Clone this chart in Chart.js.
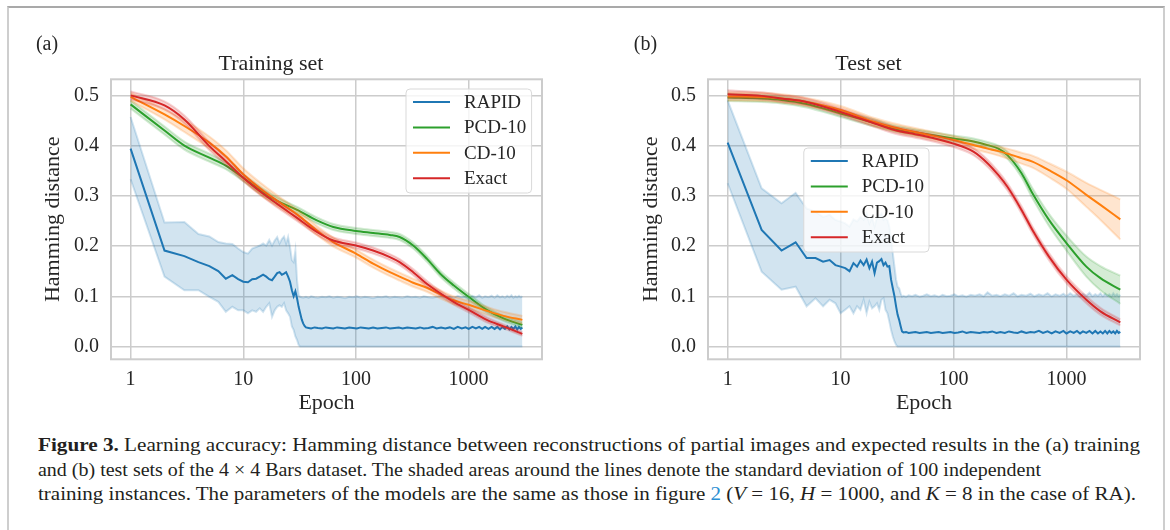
<!DOCTYPE html>
<html>
<head>
<meta charset="utf-8">
<script src="https://cdn.jsdelivr.net/npm/chart.js@4.4.1/dist/chart.umd.min.js"></script>
<style>
  html, body { margin: 0; padding: 0; background: #fff; }
  body { width: 1170px; height: 530px; position: relative; overflow: hidden; }
  #frame { position: absolute; left: 7px; top: 6px; width: 1154px; height: 540px;
           border-top: 2px solid #a9a9a9; border-left: 2px solid #cecece; border-right: 2px solid #cecece; }
  #left { position: absolute; left: 0; top: 0; }
  #right { position: absolute; left: 597px; top: 0; }
  #caption { position: absolute; left: 38px; top: 433px; font-family: "Liberation Serif", "Times New Roman", serif;
             font-size: 18.4px; line-height: 24.7px; color: #231f20; }
  #caption div { white-space: nowrap; }
  #caption .line { display: inline-block; transform-origin: 0 50%; }
</style>
</head>
<body>
<div id="frame"></div>
<canvas id="left" width="585" height="420"></canvas>
<canvas id="right" width="573" height="420"></canvas>
<div id="caption">
  <div><span class="line" data-w="1102"><b>Figure 3.</b> Learning accuracy: Hamming distance between reconstructions of partial images and expected results in the (a) training</span></div>
  <div><span class="line" data-w="1003">and (b) test sets of the 4 × 4 Bars dataset. The shaded areas around the lines denote the standard deviation of 100 independent</span></div>
  <div><span class="line" data-w="1098">training instances. The parameters of the models are the same as those in figure <span style="color:#2b8fd3">2</span> (<i>V</i> = 16, <i>H</i> = 1000, and <i>K</i> = 8 in the case of RA).</span></div>
</div>
<script>
// ---- data ----
const seriesLabels = ["RAPID", "PCD-10", "CD-10", "Exact"];
const xTicks = [1, 10, 100, 1000];
const yTicks = [0, 0.1, 0.2, 0.3, 0.4, 0.5];

// RAPID epochs (shared by both panels)
const rapidEpochs = [1,2,3,4,5,6,7,8,9,10,11,12,13,14,15,16,17,18,19,20,21,22,23,24,25,26,27,28,29,30,31,32,33,34,35,
  36,38,40,43,46, 50,54,58,63,68, 74,80,87,94,102, 110,120,130,142,155, 170,185,200,220,240,
  260,285,310,340,370, 400,440,480,520,570, 620,680,740,800,870, 940,1000,1080,1160,1240,
  1320,1400,1500,1600,1700, 1800,1900,2000,2100,2200, 2300,2400,2500,2600,2700, 2800,2900,3000];

// Training set, RAPID
const trainRapid = [.394,.191,.180,.168,.160,.150,.135,.142,.134,.129,.128,.134,.135,.139,.143,.139,.134,.132,.139,.146,
  .148,.143,.145,.148,.139,.129,.112,.100,.110,.096,.079,.066,.054,.046,.041,
  .038,.037,.036,.038,.037, .036,.038,.037,.036,.038, .037,.036,.038,.037,.036, .038,.037,.036,.038,.036,
  .037,.038,.036,.037,.038, .036,.038,.037,.036,.038, .036,.037,.039,.036,.038, .036,.038,.035,.039,.036,
  .038,.035,.039,.036,.039, .035,.039,.035,.039,.035, .039,.034,.039,.035,.040, .034,.039,.035,.040,.034,
  .039,.035,.038];
const trainRapidHi = [.457,.247,.248,.224,.219,.208,.205,.204,.195,.188,.185,.195,.198,.201,.205,.201,.212,.201,.211,.218,
  .205,.214,.219,.205,.218,.198,.172,.168,.191,.132,.102,.099,.098,.097,.098,
  .099,.097,.100,.098,.097, .099,.098,.100,.097,.099, .098,.096,.099,.098,.100, .097,.099,.098,.096,.099,
  .098,.100,.097,.099,.098, .097,.100,.098,.099,.097, .100,.098,.097,.099,.101, .098,.100,.097,.101,.098,
  .100,.097,.101,.098,.102, .097,.100,.098,.101,.097, .102,.098,.100,.097,.101, .098,.102,.097,.100,.098,
  .101,.098,.100];
const trainRapidLo = [.333,.139,.112,.112,.099,.089,.069,.079,.072,.072,.066,.072,.069,.076,.069,.079,.086,.059,.072,.079,
  .082,.079,.086,.072,.066,.059,.040,.033,.020,.013,.003,0,0,0,0,
  0,0,0,0,0, 0,0,0,0,0, 0,0,0,0,0, 0,0,0,0,0, 0,0,0,0,0, 0,0,0,0,0, 0,0,0,0,0, 0,0,0,0,0,
  0,0,0,0,0, 0,0,0,0,0, 0,0,0,0,0, 0,0,0,0,0, 0,0,0];

// Test set, RAPID
const testRapid = [.406,.232,.191,.2075,.176,.176,.169,.172,.162,.159,.156,.150,.166,.159,.171,.162,.173,.156,.169,.146,
  .167,.170,.174,.162,.167,.159,.160,.133,.116,.100,.080,.063,.053,.041,.030,
  .028,.029,.027,.028,.029, .027,.028,.029,.027,.028, .029,.027,.028,.029,.027, .028,.030,.027,.029,.028,
  .027,.029,.028,.030,.027, .029,.027,.030,.028,.027, .030,.027,.029,.028,.031, .027,.030,.026,.030,.027,
  .031,.026,.030,.027,.031, .026,.030,.027,.031,.026, .031,.026,.030,.026,.031, .026,.031,.027,.030,.026,
  .031,.027,.029];
const testRapidHi = [.490,.315,.285,.306,.275,.268,.258,.262,.252,.249,.245,.239,.253,.249,.258,.252,.265,.245,.258,.239,
  .257,.260,.265,.252,.255,.252,.239,.212,.186,.159,.133,.119,.116,.106,.099,
  .101,.099,.102,.100,.103, .099,.101,.104,.100,.102, .099,.103,.100,.101,.104, .100,.102,.099,.103,.101,
  .104,.100,.108,.101,.103, .100,.104,.101,.106,.100, .103,.101,.105,.100,.104, .101,.106,.100,.104,.101,
  .105,.100,.106,.101,.104, .100,.105,.101,.107,.100, .104,.101,.106,.100,.105, .101,.104,.100,.106,.101,
  .104,.100,.103];
const testRapidLo = [.325,.149,.113,.119,.080,.096,.080,.093,.086,.066,.073,.080,.066,.080,.073,.093,.066,.089,.076,.080,
  .086,.073,.093,.096,.073,.066,.050,.033,.020,.010,.003,0,0,0,0,
  0,0,0,0,0, 0,0,0,0,0, 0,0,0,0,0, 0,0,0,0,0, 0,0,0,0,0, 0,0,0,0,0, 0,0,0,0,0, 0,0,0,0,0,
  0,0,0,0,0, 0,0,0,0,0, 0,0,0,0,0, 0,0,0,0,0, 0,0,0];

// Training set, smooth models (mean and standard deviation)
const trainEpochs = [1,2,3,5,7,10,15,20,30,45,63,100,142,200,244,322,425,560,735,1000,1450,2040,3000];
const trainPcd   = [.482,.430,.400,.376,.360,.336,.307,.290,.272,.251,.238,.230,.226,.222,.218,.201,.175,.145,.122,.099,.073,.056,.043];
const trainCd    = [.497,.462,.439,.406,.379,.343,.310,.290,.263,.231,.208,.185,.165,.148,.139,.127,.117,.104,.092,.083,.071,.061,.053];
const trainExact = [.500,.480,.452,.399,.369,.336,.304,.284,.256,.228,.211,.201,.191,.178,.168,.148,.125,.106,.089,.073,.053,.040,.025];
const trainPcdSd   = [.008,.008,.008,.008,.007,.007,.007,.007,.006,.006,.006,.006,.006,.006,.006,.006,.006,.006,.006,.006,.005,.005,.005];
const trainCdSd    = [.008,.010,.012,.012,.012,.012,.012,.011,.010,.009,.009,.008,.008,.008,.008,.008,.008,.008,.008,.008,.008,.008,.008];
const trainExactSd = [.008,.008,.008,.008,.008,.007,.007,.007,.006,.006,.006,.006,.006,.006,.006,.006,.006,.005,.005,.005,.005,.004,.004];

// Test set, smooth models
const testEpochs = [1,2,3,5,10,20,30,50,100,150,200,250,300,400,500,700,1000,1500,2000,3000];
const testPcd   = [.496,.494,.491,.483,.464,.445,.434,.425,.414,.408,.401,.394,.381,.345,.305,.252,.206,.159,.136,.113];
const testCd    = [.498,.497,.494,.487,.471,.447,.436,.425,.411,.401,.394,.389,.384,.375,.368,.351,.331,.302,.282,.253];
const testExact = [.502,.499,.494,.487,.467,.444,.431,.421,.404,.388,.365,.341,.318,.272,.232,.179,.133,.093,.070,.048];
const testPcdSd   = [.007,.007,.007,.007,.007,.007,.006,.006,.006,.006,.006,.006,.007,.008,.010,.012,.015,.020,.024,.028];
const testCdSd    = [.008,.008,.008,.008,.008,.008,.008,.008,.008,.008,.008,.009,.010,.011,.012,.014,.017,.024,.030,.040];
const testExactSd = [.008,.007,.007,.007,.007,.007,.007,.007,.007,.007,.007,.007,.007,.007,.007,.007,.007,.007,.007,.006];

// ---- styling ----
const FONT = '"Liberation Serif", "Times New Roman", serif';
const TEXT = '#262626';
const GRID = '#cccccc';
const COLORS = { RAPID: [31,119,180], 'PCD-10': [44,160,44], 'CD-10': [255,127,14], Exact: [214,39,40] };
const rgba = (c, a) => `rgba(${c[0]},${c[1]},${c[2]},${a})`;

function pts(xs, ys) { return xs.map((x, i) => ({ x: x, y: ys[i] })); }
function plus(ys, sd) { return ys.map((y, i) => y + sd[i]); }
function minus(ys, sd) { return ys.map((y, i) => y - sd[i]); }

function line(label, xs, ys, order, smooth) {
  return {
    label: label, data: pts(xs, ys), order: order,
    borderColor: rgba(COLORS[label], 1), borderWidth: 2,
    pointRadius: 0, fill: false,
    cubicInterpolationMode: smooth ? 'monotone' : 'default', tension: 0
  };
}
function band(label, xs, hi, lo, order, smooth) {
  const common = {
    order: order, pointRadius: 0, borderWidth: 2,
    borderColor: rgba(COLORS[label], 0.2), backgroundColor: rgba(COLORS[label], 0.2),
    cubicInterpolationMode: smooth ? 'monotone' : 'default', tension: 0
  };
  return [
    Object.assign({ label: label + ' hi', data: pts(xs, hi), fill: '+1' }, common),
    Object.assign({ label: label + ' lo', data: pts(xs, lo), fill: false }, common)
  ];
}

const framePlugin = {
  id: 'frame',
  afterDatasetsDraw(chart) {
    const a = chart.chartArea, ctx = chart.ctx;
    ctx.save();
    ctx.strokeStyle = GRID; ctx.lineWidth = 2;
    ctx.strokeRect(a.left, a.top, a.right - a.left, a.bottom - a.top);
    ctx.restore();
  }
};

const boxLegendPlugin = {
  id: 'boxLegend',
  afterDatasetsDraw(chart, args, o) {
    const ctx = chart.ctx, a = chart.chartArea;
    const x0 = a.left + o.dx, y0 = a.top + o.dy;
    ctx.save();
    ctx.beginPath();
    ctx.roundRect(x0, y0, o.w, o.h, 4);
    ctx.fillStyle = 'rgba(255,255,255,0.8)';
    ctx.fill();
    ctx.strokeStyle = '#d9d9d9'; ctx.lineWidth = 1;
    ctx.stroke();
    ctx.font = '19px ' + FONT;
    ctx.textBaseline = 'middle';
    ctx.textAlign = 'left';
    seriesLabels.forEach((lab, i) => {
      const y = y0 + 13 + i * 25.4;
      ctx.strokeStyle = rgba(COLORS[lab], 1); ctx.lineWidth = 2;
      ctx.beginPath(); ctx.moveTo(x0 + 7, y); ctx.lineTo(x0 + 44, y); ctx.stroke();
      ctx.fillStyle = TEXT;
      ctx.fillText(lab, x0 + 58, y + 1);
    });
    ctx.restore();
  }
};

const panelTagPlugin = {
  id: 'panelTag',
  afterDraw(chart, args, o) {
    const ctx = chart.ctx;
    ctx.save();
    ctx.font = '20px ' + FONT;
    ctx.fillStyle = TEXT;
    ctx.textAlign = 'center';
    ctx.textBaseline = 'middle';
    ctx.fillText(o.text, o.x, o.y);
    ctx.restore();
  }
};

function makePanel(canvasId, cfg) {
  const datasets = [
    line('Exact', cfg.epochs, cfg.exact, 0, true),
    ...band('Exact', cfg.epochs, plus(cfg.exact, cfg.exactSd), minus(cfg.exact, cfg.exactSd), 1, true),
    line('CD-10', cfg.epochs, cfg.cd, 2, true),
    ...band('CD-10', cfg.epochs, plus(cfg.cd, cfg.cdSd), minus(cfg.cd, cfg.cdSd), 3, true),
    line('PCD-10', cfg.epochs, cfg.pcd, 4, true),
    ...band('PCD-10', cfg.epochs, plus(cfg.pcd, cfg.pcdSd), minus(cfg.pcd, cfg.pcdSd), 5, true),
    line('RAPID', rapidEpochs, cfg.rapid, 6, false),
    ...band('RAPID', rapidEpochs, cfg.rapidHi, cfg.rapidLo, 7, false)
  ];
  return new Chart(document.getElementById(canvasId), {
    type: 'line',
    data: { datasets: datasets },
    plugins: [framePlugin, boxLegendPlugin, panelTagPlugin],
    options: {
      responsive: false, animation: false, devicePixelRatio: 1, events: [],
      layout: { padding: { left: 0, right: cfg.padRight, top: 0, bottom: 0 } },
      plugins: {
        legend: { display: false }, tooltip: { enabled: false },
        title: { display: true, text: cfg.title, color: TEXT,
                 font: { family: FONT, size: 22, weight: 'normal', lineHeight: 1.2 },
                 padding: { top: 50.8, bottom: 2.1 } },
        boxLegend: cfg.legend,
        panelTag: cfg.tag
      },
      scales: {
        x: {
          type: 'logarithmic', position: 'bottom', min: 0.67, max: 4480,
          afterBuildTicks: s => { s.ticks = xTicks.map(v => ({ value: v })); },
          afterFit: s => { s.height = 60.7; },
          ticks: { callback: v => String(v), color: TEXT, padding: 8.7, autoSkip: false, maxRotation: 0,
                   font: { family: FONT, size: 20, lineHeight: 1.2 } },
          grid: { color: GRID, lineWidth: 1.5, drawTicks: false },
          border: { display: false },
          title: { display: true, text: 'Epoch', color: TEXT, padding: { top: 0, bottom: 3.8 },
                   font: { family: FONT, size: 22, lineHeight: 1.2 } }
        },
        y: {
          type: 'linear', min: -0.0255, max: 0.532,
          afterBuildTicks: s => { s.ticks = yTicks.map(v => ({ value: v })); },
          afterFit: s => { s.width = 111; },
          ticks: { callback: v => v.toFixed(1), color: TEXT, padding: 12,
                   font: { family: FONT, size: 20, lineHeight: 1.2 } },
          grid: { color: GRID, lineWidth: 1.5, drawTicks: false },
          border: { display: false },
          title: { display: true, text: 'Hamming distance', color: TEXT, padding: { top: cfg.yTitlePad, bottom: 0 },
                   font: { family: FONT, size: 22, lineHeight: 1.2 } }
        }
      }
    }
  });
}

function drawAll() {
  makePanel('left', {
    title: 'Training set', padRight: 43, yTitlePad: 39.8,
    epochs: trainEpochs, pcd: trainPcd, cd: trainCd, exact: trainExact,
    pcdSd: trainPcdSd, cdSd: trainCdSd, exactSd: trainExactSd,
    rapid: trainRapid, rapidHi: trainRapidHi, rapidLo: trainRapidLo,
    legend: { dx: 295, dy: 9.7, w: 125.6, h: 104 },
    tag: { text: '(a)', x: 47, y: 45 }
  });
  makePanel('right', {
    title: 'Test set', padRight: 30, yTitlePad: 41.2,
    epochs: testEpochs, pcd: testPcd, cd: testCd, exact: testExact,
    pcdSd: testPcdSd, cdSd: testCdSd, exactSd: testExactSd,
    rapid: testRapid, rapidHi: testRapidHi, rapidLo: testRapidLo,
    legend: { dx: 95.8, dy: 68.7, w: 125.2, h: 104 },
    tag: { text: '(b)', x: 48.5, y: 45 }
  });

  // widen caption lines to the widths they have in the figure
  document.querySelectorAll('#caption .line').forEach(el => {
    const target = parseFloat(el.dataset.w);
    const w = el.getBoundingClientRect().width;
    el.style.transform = 'scaleX(' + (target / w) + ')';
  });
}

if (document.fonts && document.fonts.ready) {
  document.fonts.ready.then(drawAll);
} else {
  drawAll();
}
</script>
</body>
</html>
